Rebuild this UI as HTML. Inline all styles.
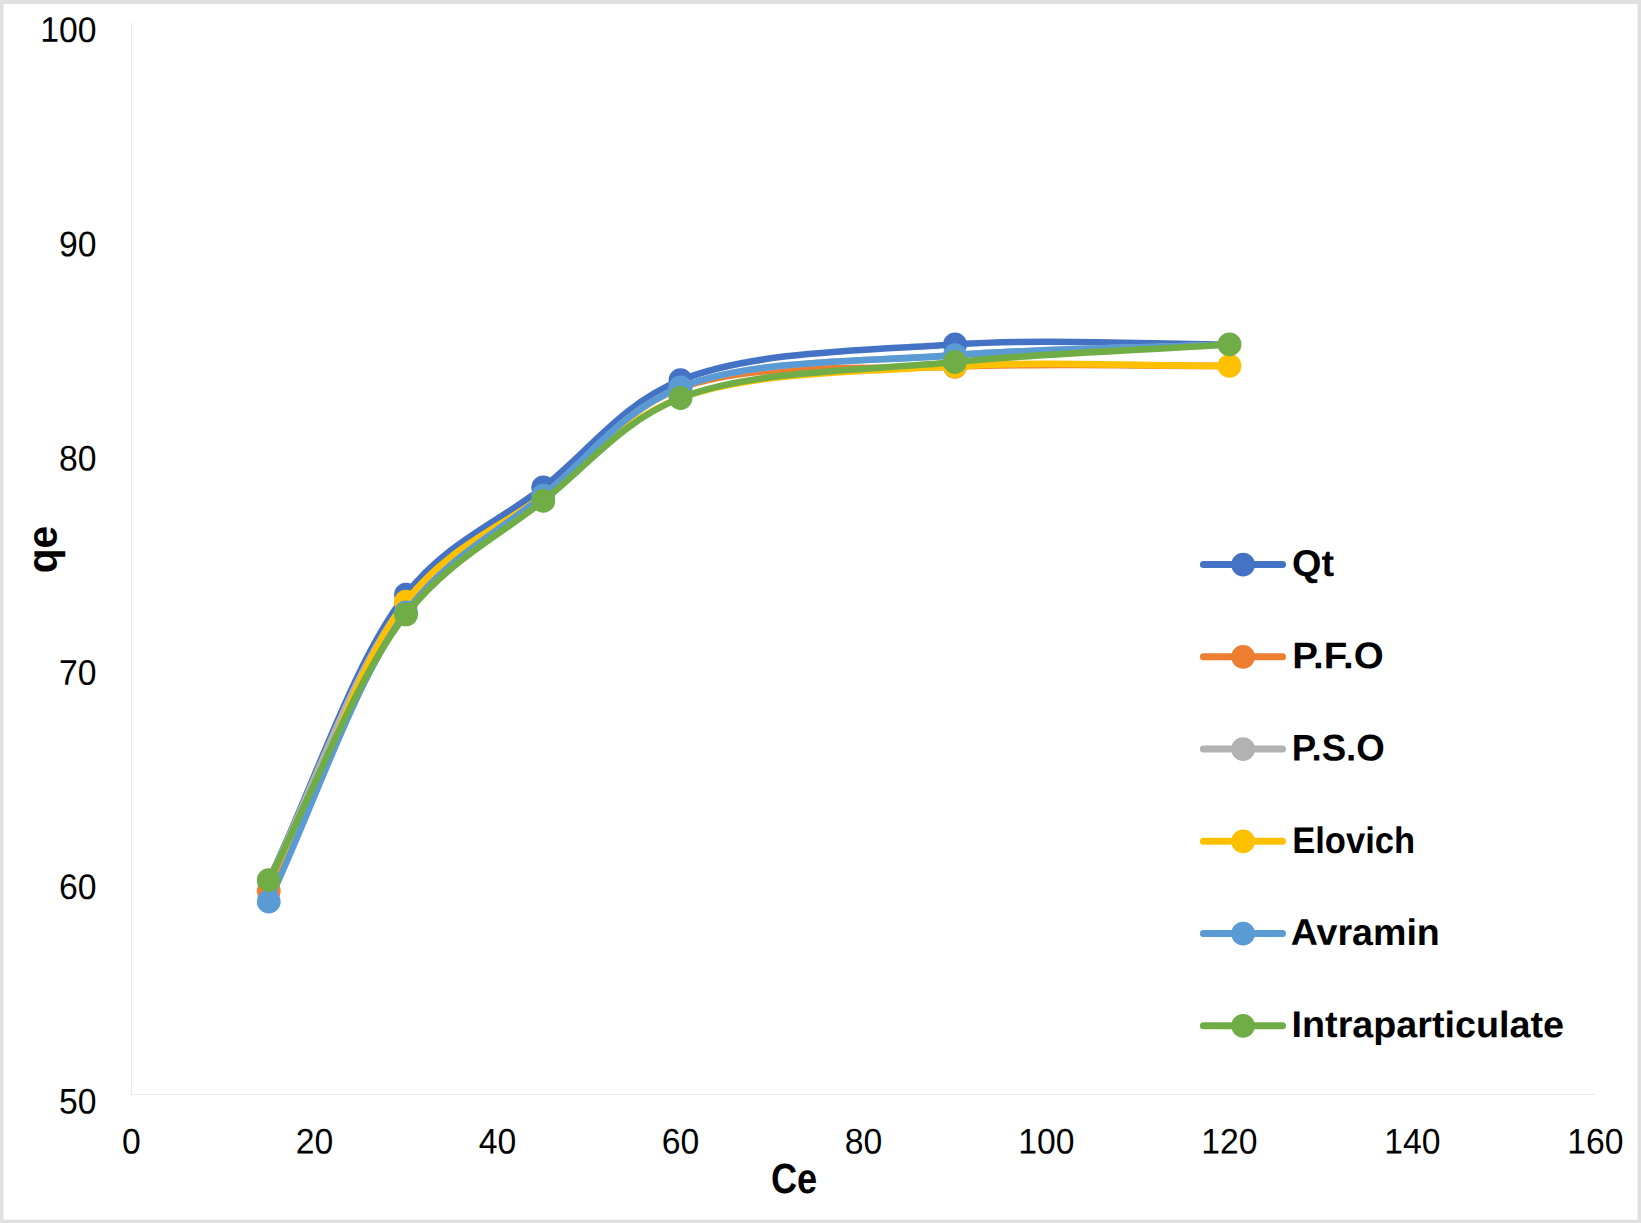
<!DOCTYPE html>
<html lang="en">
<head>
<meta charset="utf-8">
<title>qe vs Ce</title>
<style>
html,body{margin:0;padding:0;background:#fff;}
body{width:1641px;height:1223px;overflow:hidden;}
svg{display:block;}
text{font-family:"Liberation Sans",sans-serif;fill:#000;}
.tick{font-size:35.5px;}
.leg{font-size:37.1px;font-weight:bold;}
.ttl{font-size:42.2px;font-weight:bold;}
.ttl2{font-size:41.8px;font-weight:bold;}
</style>
</head>
<body>
<svg width="1641" height="1223" viewBox="0 0 1641 1223">
<rect x="0" y="0" width="1641" height="1223" fill="#E0E0E0"/>
<rect x="3.5" y="4.1" width="1634.1" height="1215.6" fill="#FFFFFF"/>
<g fill="#E9E9E9" shape-rendering="crispEdges">
<rect x="131" y="23" width="1" height="1072"/>
<rect x="131" y="1094" width="1465" height="1"/>
</g>
<g class="tick" text-anchor="end">
<text transform="translate(96.6 1113.4) rotate(0.03) scale(0.95 1)">50</text>
<text transform="translate(96.6 899.1) rotate(0.03) scale(0.95 1)">60</text>
<text transform="translate(96.6 684.8) rotate(0.03) scale(0.95 1)">70</text>
<text transform="translate(96.6 470.5) rotate(0.03) scale(0.95 1)">80</text>
<text transform="translate(96.6 256.2) rotate(0.03) scale(0.95 1)">90</text>
<text transform="translate(96.6 41.9) rotate(0.03) scale(0.95 1)">100</text>
</g>
<g class="tick" text-anchor="middle">
<text transform="translate(131.5 1153.4) rotate(0.03) scale(0.95 1)">0</text>
<text transform="translate(314.5 1153.4) rotate(0.03) scale(0.95 1)">20</text>
<text transform="translate(497.5 1153.4) rotate(0.03) scale(0.95 1)">40</text>
<text transform="translate(680.5 1153.4) rotate(0.03) scale(0.95 1)">60</text>
<text transform="translate(863.5 1153.4) rotate(0.03) scale(0.95 1)">80</text>
<text transform="translate(1046.5 1153.4) rotate(0.03) scale(0.95 1)">100</text>
<text transform="translate(1229.5 1153.4) rotate(0.03) scale(0.95 1)">120</text>
<text transform="translate(1412.5 1153.4) rotate(0.03) scale(0.95 1)">140</text>
<text transform="translate(1595.5 1153.4) rotate(0.03) scale(0.95 1)">160</text>
</g>
<text class="ttl" transform="translate(794.1 1193.2) rotate(0.03)" text-anchor="middle" textLength="46.2" lengthAdjust="spacingAndGlyphs">Ce</text>
<text class="ttl2" transform="translate(56.6 549.5) rotate(-89.97)" text-anchor="middle" textLength="47.4" lengthAdjust="spacingAndGlyphs">qe</text>
<g fill="#4472C4" stroke="none">
<path d="M268.75 880.20 C314.50 784.98 353.32 661.87 406.00 594.54 C447.46 541.55 497.50 523.10 543.25 487.39 C589.00 451.67 621.02 404.24 680.50 380.24 C752.10 351.34 863.35 350.40 955.00 344.45 C1046.35 338.52 1138.00 344.45 1229.50 344.45" fill="none" stroke="#4472C4" stroke-width="6.6" stroke-linecap="round" stroke-linejoin="round"/>
<circle cx="406.00" cy="594.54" r="11.9"/>
<circle cx="543.25" cy="487.39" r="11.9"/>
<circle cx="680.50" cy="380.24" r="11.9"/>
<circle cx="955.00" cy="344.45" r="11.9"/>
</g>
<g fill="#ED7D31" stroke="none">
<path d="M268.75 890.91 C314.50 795.19 353.31 671.56 406.00 603.75 C447.46 550.40 497.47 531.48 543.25 495.53 C588.97 459.62 620.91 410.40 680.50 388.17 C752.05 361.47 863.44 370.45 955.00 366.74 C1046.44 363.03 1138.00 366.17 1229.50 365.88" fill="none" stroke="#ED7D31" stroke-width="6.6" stroke-linecap="round" stroke-linejoin="round"/>
<circle cx="268.75" cy="890.91" r="11.9"/>
<circle cx="406.00" cy="603.75" r="11.9"/>
<circle cx="680.50" cy="388.17" r="11.9"/>
<circle cx="955.00" cy="366.74" r="11.9"/>
</g>
<g fill="#B2B2B2" stroke="none">
<path d="M268.75 880.20 C314.50 787.34 353.55 667.56 406.00 601.61 C447.55 549.36 497.57 531.19 543.25 495.53 C589.07 459.76 620.93 411.05 680.50 387.31 C752.06 358.80 863.39 362.31 955.00 355.16 C1046.39 348.04 1138.00 348.02 1229.50 344.45" fill="none" stroke="#B2B2B2" stroke-width="6.6" stroke-linecap="round" stroke-linejoin="round"/>
</g>
<g fill="#FFC000" stroke="none">
<path d="M268.75 901.63 C314.50 801.62 352.68 671.01 406.00 601.61 C447.23 547.95 497.22 529.65 543.25 495.53 C588.73 461.82 621.55 419.79 680.50 398.02 C752.37 371.49 863.38 371.66 955.00 366.31 C1046.38 360.97 1138.00 366.02 1229.50 365.88" fill="none" stroke="#FFC000" stroke-width="6.6" stroke-linecap="round" stroke-linejoin="round"/>
<circle cx="406.00" cy="601.61" r="11.9"/>
<circle cx="955.00" cy="366.31" r="11.9"/>
<circle cx="1229.50" cy="365.88" r="11.9"/>
</g>
<g fill="#5B9BD5" stroke="none">
<path d="M268.75 901.63 C314.50 805.20 353.66 682.33 406.00 612.33 C447.59 556.70 497.22 533.25 543.25 495.53 C588.72 458.27 620.93 411.05 680.50 387.31 C752.06 358.80 863.39 362.31 955.00 355.16 C1046.39 348.04 1138.00 348.02 1229.50 344.45" fill="none" stroke="#5B9BD5" stroke-width="6.6" stroke-linecap="round" stroke-linejoin="round"/>
<circle cx="268.75" cy="901.63" r="11.9"/>
<circle cx="406.00" cy="612.33" r="11.9"/>
<circle cx="543.25" cy="495.53" r="11.9"/>
<circle cx="680.50" cy="387.31" r="11.9"/>
<circle cx="955.00" cy="355.16" r="11.9"/>
</g>
<g fill="#70AD47" stroke="none">
<path d="M268.75 880.20 C314.50 791.62 354.44 679.88 406.00 614.47 C447.91 561.30 497.15 537.21 543.25 500.89 C588.66 465.11 621.27 421.29 680.50 398.02 C752.23 369.85 863.38 370.96 955.00 362.02 C1046.38 353.11 1138.00 350.31 1229.50 344.45" fill="none" stroke="#70AD47" stroke-width="6.6" stroke-linecap="round" stroke-linejoin="round"/>
<circle cx="268.75" cy="880.20" r="11.9"/>
<circle cx="406.00" cy="614.47" r="11.9"/>
<circle cx="543.25" cy="500.89" r="11.9"/>
<circle cx="680.50" cy="398.02" r="11.9"/>
<circle cx="955.00" cy="362.02" r="11.9"/>
<circle cx="1229.50" cy="344.45" r="11.9"/>
</g>
<g fill="#4472C4">
<line x1="1203.4" y1="564.60" x2="1282.5" y2="564.60" stroke="#4472C4" stroke-width="7" stroke-linecap="round"/>
<circle cx="1243.1" cy="564.60" r="11.9"/>
</g>
<text class="leg" transform="translate(1292.0 575.90) rotate(0.03)" textLength="42.0" lengthAdjust="spacingAndGlyphs">Qt</text>
<g fill="#ED7D31">
<line x1="1203.4" y1="656.84" x2="1282.5" y2="656.84" stroke="#ED7D31" stroke-width="7" stroke-linecap="round"/>
<circle cx="1243.1" cy="656.84" r="11.9"/>
</g>
<text class="leg" transform="translate(1292.3 668.14) rotate(0.03)" textLength="91.3" lengthAdjust="spacingAndGlyphs">P.F.O</text>
<g fill="#B2B2B2">
<line x1="1203.4" y1="749.08" x2="1282.5" y2="749.08" stroke="#B2B2B2" stroke-width="7" stroke-linecap="round"/>
<circle cx="1243.1" cy="749.08" r="11.9"/>
</g>
<text class="leg" transform="translate(1291.8 760.38) rotate(0.03)" textLength="92.9" lengthAdjust="spacingAndGlyphs">P.S.O</text>
<g fill="#FFC000">
<line x1="1203.4" y1="841.32" x2="1282.5" y2="841.32" stroke="#FFC000" stroke-width="7" stroke-linecap="round"/>
<circle cx="1243.1" cy="841.32" r="11.9"/>
</g>
<text class="leg" transform="translate(1292.2 852.62) rotate(0.03)" textLength="122.9" lengthAdjust="spacingAndGlyphs">Elovich</text>
<g fill="#5B9BD5">
<line x1="1203.4" y1="933.56" x2="1282.5" y2="933.56" stroke="#5B9BD5" stroke-width="7" stroke-linecap="round"/>
<circle cx="1243.1" cy="933.56" r="11.9"/>
</g>
<text class="leg" transform="translate(1290.8 944.86) rotate(0.03)" textLength="149.0" lengthAdjust="spacingAndGlyphs">Avramin</text>
<g fill="#70AD47">
<line x1="1203.4" y1="1025.80" x2="1282.5" y2="1025.80" stroke="#70AD47" stroke-width="7" stroke-linecap="round"/>
<circle cx="1243.1" cy="1025.80" r="11.9"/>
</g>
<text class="leg" transform="translate(1291.6 1037.10) rotate(0.03)" textLength="272.4" lengthAdjust="spacingAndGlyphs">Intraparticulate</text>
</svg>
</body>
</html>
